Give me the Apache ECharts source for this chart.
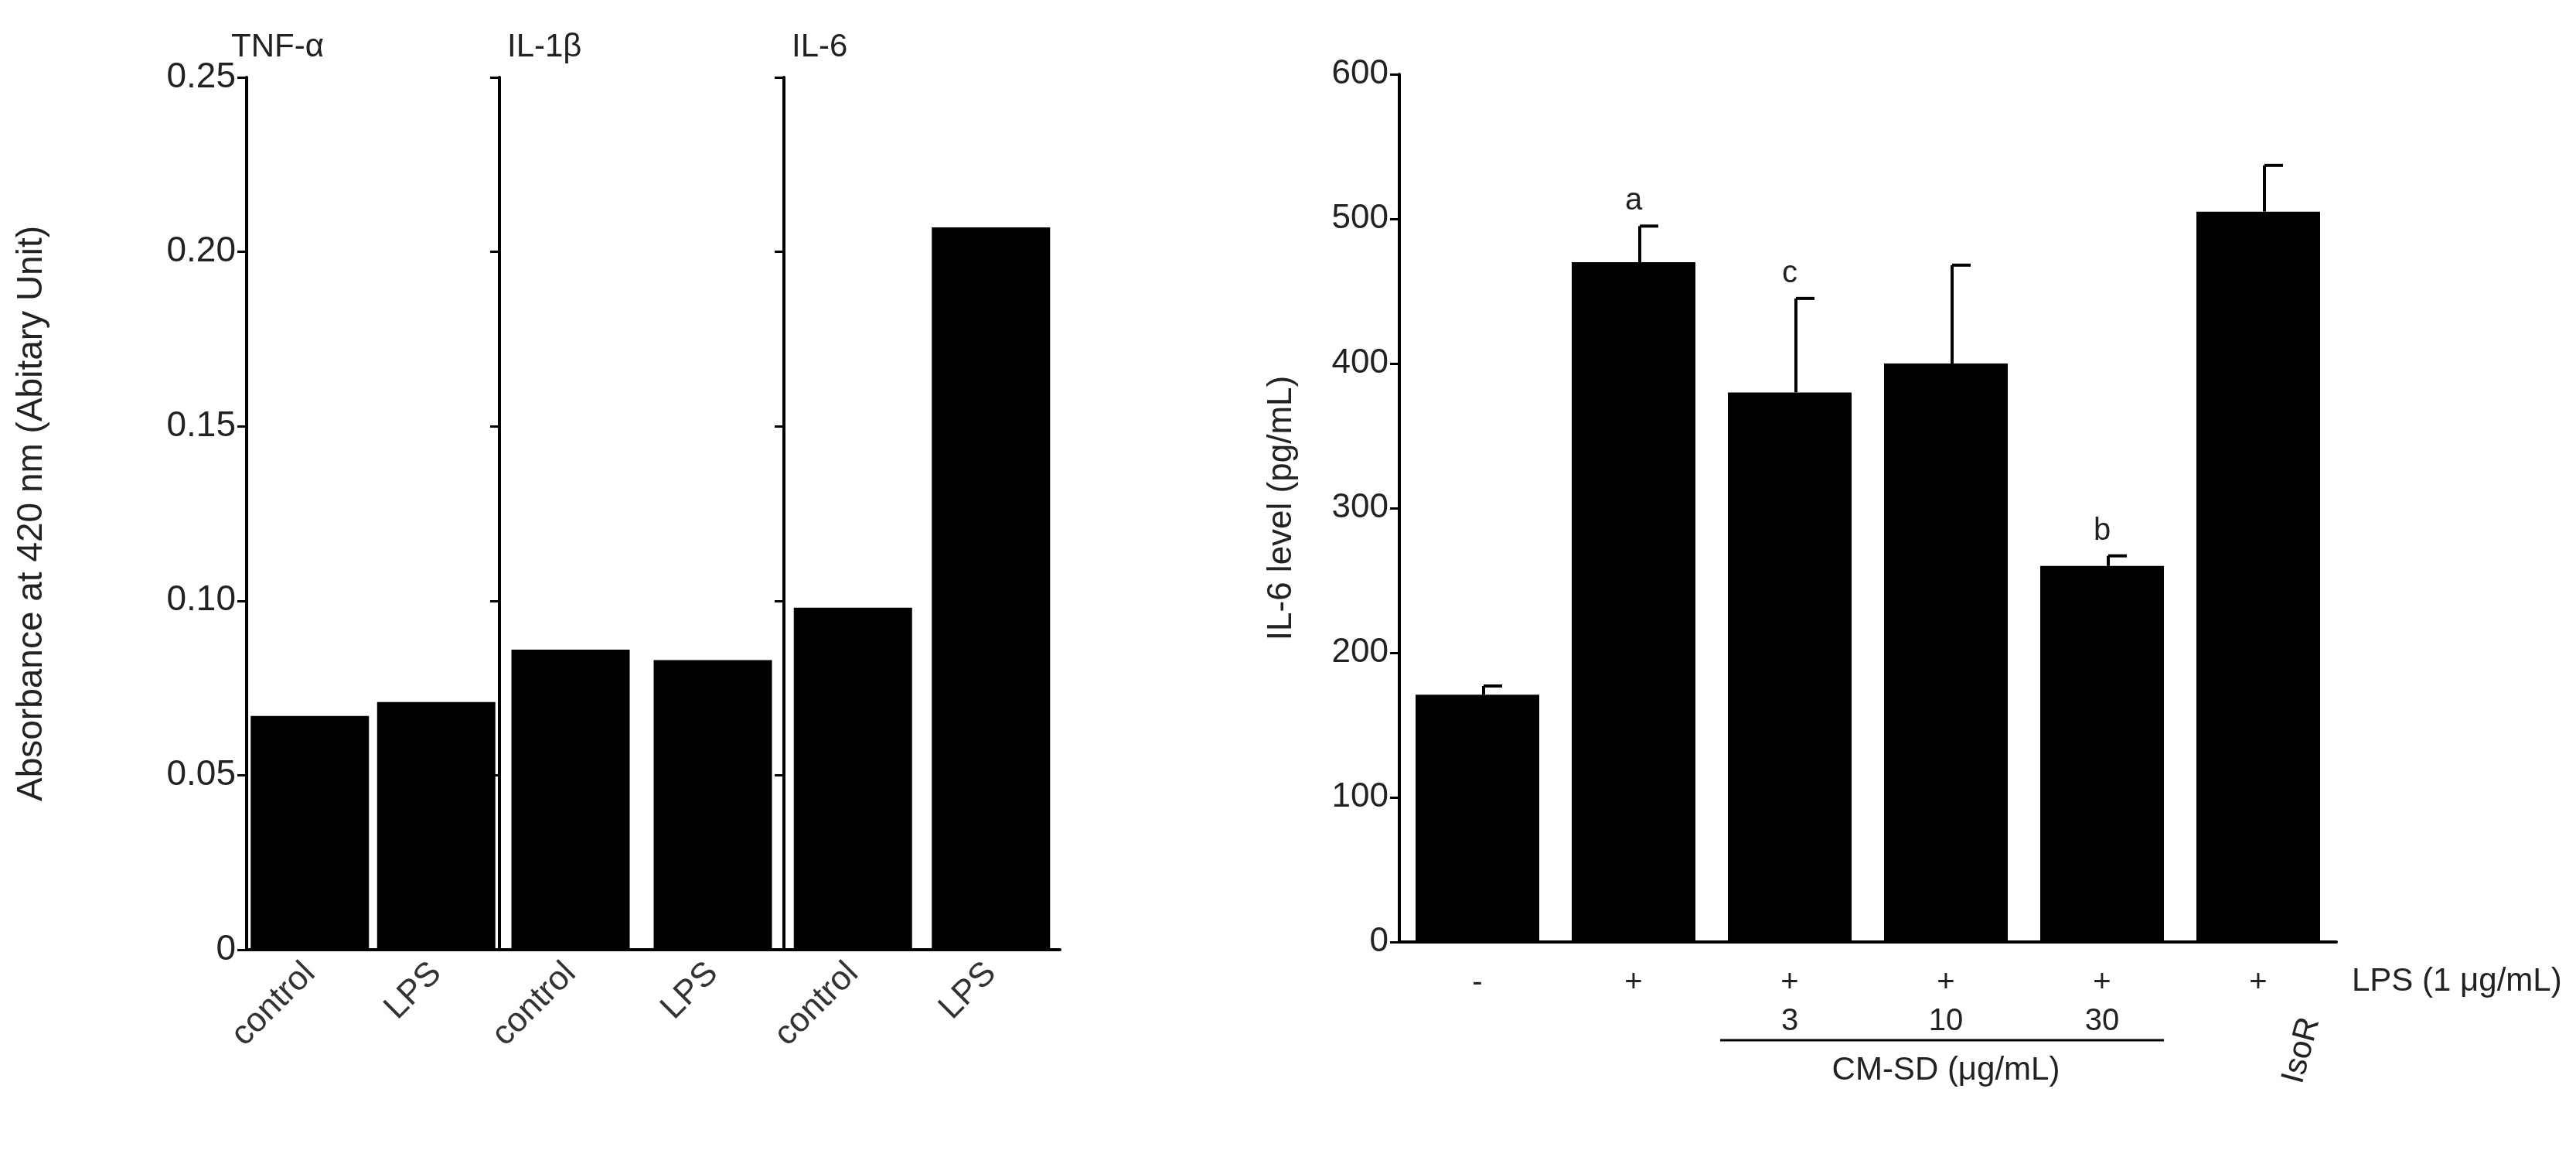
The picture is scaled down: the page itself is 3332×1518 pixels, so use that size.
<!DOCTYPE html>
<html><head><meta charset="utf-8">
<script src="https://cdn.jsdelivr.net/npm/echarts@6/dist/echarts.min.js"></script>
<style>html,body{margin:0;padding:0;background:#fff}#c{width:3332px;height:1518px}</style>
</head><body><div id="c"></div>
<script>
const panelTitles = ['TNF-α', 'IL-1β', 'IL-6'];
const panelCats = ['control', 'LPS'];
const tnfVals = [0.067, 0.071];
const il1Vals = [0.086, 0.083];
const il6Vals = [0.098, 0.207];
const leftTicks = [0, 0.05, 0.10, 0.15, 0.20, 0.25];

const rightCats = ['-', '+', '+\n3', '+\n10', '+\n30', '+'];
const rightVals = [171, 470, 380, 400, 260, 505];
const rightErr = [6, 25, 65, 68, 7, 32];
const rightSig = ['', 'a', 'c', '', 'b', ''];

const F = 'Liberation Sans, Arial, sans-serif';
const txt = '#222';
const chart = echarts.init(document.getElementById('c'));
const panels = [[319, 646], [646, 1014], [1014, 1371]];
const panelVals = [tnfVals, il1Vals, il6Vals];
const grids = [], xAxes = [], yAxes = [], series = [];
panels.forEach((p, i) => {
  grids.push({left: p[0], top: 100, width: p[1] - p[0], height: 1128});
  xAxes.push({type: 'category', gridIndex: i, data: panelCats,
    axisLine: {lineStyle: {color: '#000', width: 4}}, axisTick: {show: false},
    axisLabel: {rotate: 45, fontSize: 44, fontFamily: F, color: '#333', margin: 24}});
  yAxes.push({type: 'value', gridIndex: i, min: 0, max: 0.25, interval: 0.05,
    name: i === 0 ? 'Absorbance at 420 nm (Abitary Unit)' : '',
    nameLocation: 'middle', nameGap: 255, nameTextStyle: {fontSize: 46, fontFamily: F, color: txt},
    splitLine: {show: false},
    axisLine: {show: true, lineStyle: {color: '#000', width: 4}},
    axisTick: {show: true, length: 12, lineStyle: {color: '#000', width: 3}},
    axisLabel: {show: i === 0, fontSize: 46, fontFamily: F, color: txt, margin: 14,
      formatter: v => { const s = leftTicks.find(t => Math.abs(t - v) < 1e-9); return s === 0 ? '0' : s.toFixed(2); }}});
  series.push({type: 'bar', xAxisIndex: i, yAxisIndex: i, data: panelVals[i], barWidth: 153,
    itemStyle: {color: '#000'}, silent: true});
});
grids.push({left: 1810, top: 96, width: 1212, height: 1122});
xAxes.push({type: 'category', gridIndex: 3, data: rightCats,
  name: 'LPS (1 μg/mL)', nameLocation: 'end', nameGap: 20,
  nameTextStyle: {fontSize: 42, fontFamily: F, color: txt, verticalAlign: 'top', padding: [30, 0, 0, 0]},
  axisLine: {lineStyle: {color: '#000', width: 4}}, axisTick: {show: false},
  axisLabel: {fontSize: 40, fontFamily: F, color: txt, margin: 28, lineHeight: 50, interval: 0}});
yAxes.push({type: 'value', gridIndex: 3, min: 0, max: 600, interval: 100,
  name: 'IL-6 level (pg/mL)', nameLocation: 'middle', nameGap: 130,
  nameTextStyle: {fontSize: 44, fontFamily: F, color: txt},
  splitLine: {show: false},
  axisLine: {show: true, lineStyle: {color: '#000', width: 4}},
  axisTick: {show: true, length: 12, lineStyle: {color: '#000', width: 3}},
  axisLabel: {fontSize: 44, fontFamily: F, color: txt, margin: 14}});
series.push({type: 'bar', xAxisIndex: 3, yAxisIndex: 3, data: rightVals, barWidth: 160,
  itemStyle: {color: '#000'}, silent: true});
series.push({type: 'custom', xAxisIndex: 3, yAxisIndex: 3, silent: true, z: 1,
  data: rightVals.map((v, i) => [i, v, v + rightErr[i]]),
  renderItem: (params, api) => {
    const i = api.value(0);
    const b = api.coord([i, api.value(1)]);
    const t = api.coord([i, api.value(2)]);
    const cx = b[0] + 8;
    const ch = [
      {type: 'line', shape: {x1: cx, y1: b[1], x2: cx, y2: t[1]}, style: {stroke: '#000', lineWidth: 4}},
      {type: 'line', shape: {x1: cx, y1: t[1], x2: cx + 24, y2: t[1]}, style: {stroke: '#000', lineWidth: 4}}
    ];
    if (rightSig[i]) ch.push({type: 'text', x: b[0], y: t[1] - 12,
      style: {text: rightSig[i], fontSize: 40, fontFamily: F, fill: txt, align: 'center', verticalAlign: 'bottom'}});
    return {type: 'group', children: ch};
  }});

chart.setOption({animation: false, grid: grids, xAxis: xAxes, yAxis: yAxes, series: series});

const g = [];
panelTitles.forEach((t, i) => {
  g.push({type: 'text', left: panels[i][0] - 20 + (i === 0 ? 0 : 30), top: 40,
    style: {text: t, fontSize: 42, fontFamily: F, fill: txt}});
});
const p3 = chart.convertToPixel({xAxisIndex: 3, yAxisIndex: 3}, [2, 0]);
const p5 = chart.convertToPixel({xAxisIndex: 3, yAxisIndex: 3}, [4, 0]);
const p6 = chart.convertToPixel({xAxisIndex: 3, yAxisIndex: 3}, [5, 0]);
const ly = 1345;
g.push({type: 'line', shape: {x1: p3[0] - 90, y1: ly, x2: p5[0] + 80, y2: ly}, style: {stroke: '#000', lineWidth: 3}});
g.push({type: 'text', x: (p3[0] + p5[0]) / 2, y: ly + 18,
  style: {text: 'CM-SD (μg/mL)', fontSize: 42, fontFamily: F, fill: txt, align: 'center', verticalAlign: 'top'}});
g.push({type: 'text', x: p6[0] + 45, y: 1400, rotation: Math.PI * 75 / 180,
  style: {text: 'IsoR', fontSize: 42, fontFamily: F, fill: txt, align: 'left', verticalAlign: 'middle'}});
chart.setOption({graphic: g});
</script></body></html>
